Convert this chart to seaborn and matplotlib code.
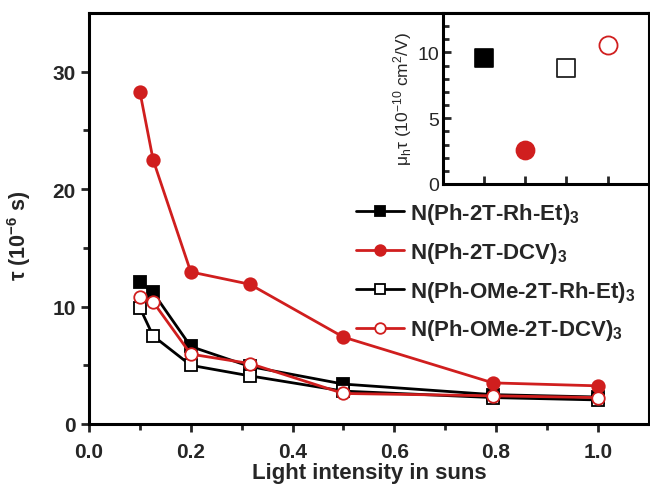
import matplotlib
matplotlib.use("Agg")
import matplotlib.pyplot as plt
import seaborn as sns
import numpy as np

# ---- data ----
intensity = [0.1, 0.126, 0.2, 0.316, 0.5, 0.794, 1.0]
tau_ph_rh = [12.1, 11.2, 6.6, 4.9, 3.4, 2.5, 2.3]
tau_ph_dcv = [28.3, 22.5, 12.95, 11.9, 7.4, 3.5, 3.25]
tau_ome_rh = [9.9, 7.5, 5.0, 4.1, 2.8, 2.25, 2.05]
tau_ome_dcv = [10.8, 10.4, 5.95, 5.15, 2.6, 2.4, 2.25]
labels = ["N(Ph-2T-Rh-Et)$_\\mathbf{3}$", "N(Ph-2T-DCV)$_\\mathbf{3}$",
          "N(Ph-OMe-2T-Rh-Et)$_\\mathbf{3}$", "N(Ph-OMe-2T-DCV)$_\\mathbf{3}$"]
inset_pos = [1, 2, 3, 4]
inset_mutau = [9.6, 2.6, 8.8, 10.6]

RED = "#D01E1E"
BLACK = "#000000"

sns.set_style("ticks")
plt.rcParams["font.family"] = ["Liberation Sans", "DejaVu Sans"]
plt.rcParams["mathtext.fontset"] = "custom"
plt.rcParams["mathtext.rm"] = "Liberation Sans"
plt.rcParams["mathtext.bf"] = "Liberation Sans:bold"
plt.rcParams["mathtext.it"] = "Liberation Sans:italic"

fig = plt.figure(figsize=(6.5, 4.89), dpi=100)
ax = fig.add_axes([89/650, 64/489, 1 - 89/650 - 0.002, (425-14)/489])

series = [tau_ph_rh, tau_ph_dcv, tau_ome_rh, tau_ome_dcv]
colors = [BLACK, RED, BLACK, RED]
markers = ["s", "o", "s", "o"]
faces = [BLACK, RED, "white", "white"]
msizes = [8, 9, 8, 9]
for vals, lab, c, m, fc, ms in zip(series, labels, colors, markers, faces, msizes):
    sns.lineplot(x=intensity, y=vals, ax=ax, color=c, marker=m, markersize=ms,
                 markerfacecolor=fc, markeredgecolor=c, markeredgewidth=1.3,
                 linewidth=2, label=lab)

ax.set_xlim(0, 1.1)
ax.set_ylim(0, 35)
ax.set_xticks([0.0, 0.2, 0.4, 0.6, 0.8, 1.0])
ax.set_xticks(np.arange(0.1, 1.1, 0.2), minor=True)
ax.set_yticks([0, 10, 20, 30])
ax.set_yticks([5, 15, 25], minor=True)
ax.set_xticklabels(["0.0", "0.2", "0.4", "0.6", "0.8", "1.0"])
for s in ax.spines.values():
    s.set_linewidth(2.2)
    s.set_color("black")
ax.tick_params(axis="x", which="major", pad=7)
ax.tick_params(which="major", direction="out", length=6, width=2, labelsize=15)
ax.tick_params(which="minor", direction="out", length=4, width=2)
for t in ax.get_xticklabels() + ax.get_yticklabels():
    t.set_fontweight("bold")
ax.set_xlabel("Light intensity in suns", fontsize=16, fontweight="bold", labelpad=1)
ax.set_ylabel("\u03c4 (10$^\\mathbf{-6}$ s)", fontsize=15.5, fontweight="bold")
ax.yaxis.set_label_coords(-0.10, 0.46)

leg = ax.legend(loc="upper left", bbox_to_anchor=(356/650, 1 - 202/489),
                bbox_transform=fig.transFigure, frameon=False,
                prop={"size": 16, "weight": "bold"}, handlelength=2.15,
                handletextpad=0.27, labelspacing=0.62, borderaxespad=0, borderpad=0,
                markerscale=0.85)

# ---- inset ----
ins = fig.add_axes([443/650, 1 - 185/489, 1 - 443/650 - 0.002, (185-14)/489])
sns.scatterplot(x=[inset_pos[0]], y=[inset_mutau[0]], ax=ins, marker="s", s=150,
                color=BLACK, edgecolor=BLACK, linewidth=1.2)
sns.scatterplot(x=[inset_pos[1]], y=[inset_mutau[1]], ax=ins, marker="o", s=170,
                color=RED, edgecolor=RED, linewidth=1.2)
sns.scatterplot(x=[inset_pos[2]], y=[inset_mutau[2]], ax=ins, marker="s", s=150,
                facecolor="white", edgecolor="#222222", linewidth=1.3)
sns.scatterplot(x=[inset_pos[3]], y=[inset_mutau[3]], ax=ins, marker="o", s=170,
                facecolor="white", edgecolor=RED, linewidth=1.3)
ins.set_xlim(0.0, 5.0)
ins.set_ylim(0, 13)
ins.set_xticks(inset_pos)
ins.set_xticklabels([])
ins.set_yticks([0, 5, 10])
ins.set_yticks([1, 2, 3, 4, 6, 7, 8, 9, 11, 12], minor=True)
for s in ins.spines.values():
    s.set_linewidth(2.2)
    s.set_color("black")
ins.tick_params(which="major", direction="in", length=6, width=2, labelsize=14, pad=3)
ins.tick_params(which="minor", direction="in", length=4, width=2)
ins.set_ylabel("\u03bc$_\\mathrm{h}$\u03c4 (10$^\\mathrm{-10}$ cm$^\\mathrm{2}$/V)", fontsize=12.5, labelpad=2)

fig.savefig("out.png", dpi=100)
